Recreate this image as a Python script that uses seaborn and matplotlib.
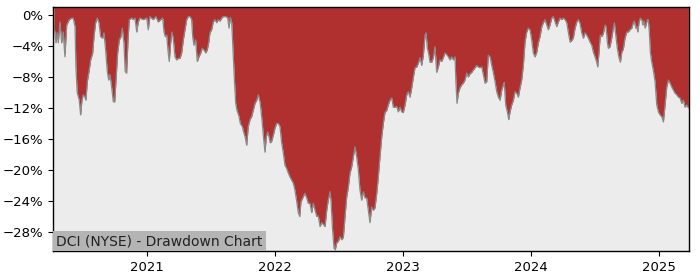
import matplotlib
matplotlib.use("Agg")
import matplotlib.pyplot as plt
import seaborn as sns
import numpy as np
import pandas as pd
from matplotlib.ticker import FuncFormatter

# ---- data (decimal year, drawdown in %) ----
years_2020 = [
    2020.273, 2020.281, 2020.289, 2020.299, 2020.307, 2020.320, 2020.334, 2020.346, 2020.359, 2020.373,
    2020.393, 2020.412, 2020.424, 2020.438, 2020.445, 2020.455, 2020.471, 2020.482, 2020.492, 2020.502,
    2020.513, 2020.523, 2020.534, 2020.549, 2020.560, 2020.576, 2020.586, 2020.599, 2020.612, 2020.625,
    2020.638, 2020.654, 2020.664, 2020.677, 2020.690, 2020.701, 2020.711, 2020.724, 2020.737, 2020.748,
    2020.758, 2020.771, 2020.784, 2020.797, 2020.807, 2020.820, 2020.830, 2020.841, 2020.852, 2020.862,
    2020.880, 2020.893, 2020.906, 2020.920, 2020.932, 2020.945, 2020.971, 2020.998, 2021.010,
]
dd_2020 = [
    -1.5, -2.2, -3.6, -2.3, -3.6, -0.9, -3.6, -2.2, -5.4, -1.3,
    -0.6, -0.4, -0.4, -1.5, -6.7, -10.0, -11.0, -12.9, -11.0, -10.3,
    -10.5, -11.0, -8.6, -7.1, -5.8, -4.9, -2.8, -1.0, -0.4, -1.0,
    -2.8, -3.0, -2.3, -4.5, -7.3, -8.4, -7.7, -9.3, -11.2, -11.2,
    -8.4, -4.9, -3.2, -2.8, -1.7, -3.6, -7.3, -7.5, -3.2, -0.6,
    -0.4, -0.6, -0.4, -2.2, -0.9, -0.4, -0.6, -0.4, -1.9,
]

years_2021a = [
    2021.023, 2021.049, 2021.070, 2021.088, 2021.107, 2021.123, 2021.133, 2021.143, 2021.154, 2021.166,
    2021.174, 2021.185, 2021.195, 2021.205, 2021.219, 2021.232, 2021.245, 2021.258, 2021.271, 2021.284,
    2021.297, 2021.310, 2021.323, 2021.336, 2021.349, 2021.357, 2021.367, 2021.380, 2021.393, 2021.406,
    2021.420, 2021.432, 2021.445, 2021.459, 2021.471, 2021.482, 2021.492, 2021.505, 2021.518, 2021.531,
    2021.545, 2021.557, 2021.570, 2021.584, 2021.596,
]
dd_2021a = [
    -0.2, -0.6, -0.2, -0.9, -0.6, -0.4, -2.2, -2.8, -2.6, -4.9,
    -6.0, -3.6, -2.2, -3.0, -5.4, -5.8, -5.6, -5.6, -4.9, -3.2,
    -1.9, -0.6, -0.2, -0.2, -0.6, -2.8, -3.9, -3.2, -6.0, -5.4,
    -4.9, -4.3, -4.5, -4.9, -4.5, -3.6, -2.3, -1.9, -0.9, -0.6,
    -1.0, -0.6, -0.8, -0.4, -0.2,
]

years_2021b = [
    2021.609, 2021.630, 2021.641, 2021.651, 2021.662, 2021.672, 2021.682, 2021.693, 2021.703, 2021.719,
    2021.729, 2021.745, 2021.755, 2021.766, 2021.779, 2021.791, 2021.805, 2021.818, 2021.830, 2021.844,
    2021.857, 2021.870, 2021.883, 2021.891, 2021.901, 2021.912, 2021.922, 2021.932, 2021.943, 2021.953,
    2021.963, 2021.974, 2021.987, 2022.000, 2022.013, 2022.026, 2022.039, 2022.052, 2022.065, 2022.078,
    2022.091, 2022.104, 2022.117, 2022.130, 2022.143, 2022.156, 2022.170, 2022.182, 2022.193, 2022.203,
    2022.219, 2022.234, 2022.248, 2022.260,
]
dd_2021b = [
    -0.2, -0.3, -1.7, -0.3, -1.0, -4.5, -8.0, -11.4, -12.3, -13.1,
    -14.0, -14.4, -15.1, -15.7, -16.8, -14.4, -13.5, -13.1, -12.3, -11.4,
    -11.0, -10.3, -11.2, -12.3, -14.0, -16.1, -17.7, -15.7, -15.1, -15.7,
    -16.5, -16.3, -15.5, -14.6, -14.0, -14.0, -14.4, -16.5, -17.8, -19.4,
    -19.8, -20.4, -20.9, -21.3, -21.7, -22.6, -24.1, -25.5, -26.0, -24.1,
    -23.5, -23.0, -23.6, -24.3,
]

years_2022 = [
    2022.273, 2022.287, 2022.299, 2022.313, 2022.326, 2022.338, 2022.352, 2022.365, 2022.377, 2022.391,
    2022.404, 2022.416, 2022.430, 2022.438, 2022.448, 2022.461, 2022.471, 2022.482, 2022.495, 2022.508,
    2022.521, 2022.534, 2022.547, 2022.560, 2022.573, 2022.586, 2022.599, 2022.612, 2022.625, 2022.638,
    2022.651, 2022.664, 2022.677, 2022.690, 2022.703, 2022.716, 2022.729, 2022.742, 2022.755, 2022.768,
    2022.781, 2022.795, 2022.807, 2022.820, 2022.834, 2022.846, 2022.859, 2022.873, 2022.885, 2022.898,
    2022.912, 2022.924,
]
dd_2022 = [
    -24.3, -25.5, -24.3, -25.2, -26.0, -25.9, -27.3, -26.8, -27.0, -27.3,
    -25.2, -23.9, -22.8, -24.1, -27.3, -30.1, -30.3, -29.4, -29.2, -28.6,
    -29.0, -28.7, -26.0, -23.5, -22.2, -20.4, -19.6, -18.3, -17.0, -18.3,
    -20.0, -22.6, -23.9, -22.8, -23.6, -23.6, -25.2, -26.8, -24.8, -25.2,
    -24.9, -23.0, -20.9, -18.3, -15.7, -14.0, -12.6, -12.3, -11.6, -11.0,
    -10.7, -11.9,
]

years_2023 = [
    2022.938, 2022.951, 2022.963, 2022.977, 2022.990, 2023.002, 2023.016, 2023.029, 2023.041, 2023.055,
    2023.068, 2023.080, 2023.094, 2023.107, 2023.120, 2023.133, 2023.146, 2023.159, 2023.172, 2023.180,
    2023.190, 2023.198, 2023.211, 2023.224, 2023.237, 2023.250, 2023.263, 2023.276, 2023.289, 2023.302,
    2023.315, 2023.328, 2023.341, 2023.354, 2023.367, 2023.380, 2023.393, 2023.406, 2023.414, 2023.422,
    2023.432, 2023.445, 2023.459, 2023.471, 2023.484, 2023.498, 2023.510, 2023.523, 2023.537, 2023.549,
    2023.563, 2023.576, 2023.588, 2023.602, 2023.615, 2023.627, 2023.641, 2023.654, 2023.666, 2023.680,
    2023.693, 2023.705,
]
dd_2023 = [
    -11.9, -11.8, -12.5, -11.9, -12.5, -12.6, -11.6, -10.3, -9.9, -10.6,
    -9.4, -8.1, -6.8, -6.7, -6.2, -5.5, -6.5, -5.2, -2.6, -2.3,
    -4.3, -4.8, -6.1, -6.1, -5.5, -4.1, -7.4, -6.7, -5.8, -6.0,
    -5.5, -4.9, -5.1, -5.4, -5.8, -5.4, -5.8, -5.4, -9.0, -11.4,
    -10.1, -9.4, -9.0, -8.8, -8.4, -7.5, -8.0, -7.6, -7.4, -7.1,
    -6.8, -6.5, -6.7, -6.8, -6.7, -7.7, -8.8, -8.6, -5.2, -5.4,
    -6.5, -7.4,
]

years_2024a = [
    2023.719, 2023.732, 2023.745, 2023.758, 2023.771, 2023.784, 2023.791, 2023.802, 2023.815, 2023.826,
    2023.836, 2023.849, 2023.862, 2023.875, 2023.888, 2023.901, 2023.914, 2023.927, 2023.940, 2023.953,
    2023.966, 2023.979, 2023.992, 2024.005, 2024.018, 2024.031, 2024.045, 2024.057, 2024.070, 2024.084,
    2024.096, 2024.109, 2024.123, 2024.135, 2024.148, 2024.162, 2024.174, 2024.188, 2024.201, 2024.213,
    2024.227, 2024.240, 2024.252, 2024.266, 2024.279, 2024.291, 2024.305, 2024.318, 2024.330, 2024.344,
    2024.357, 2024.370, 2024.383, 2024.396, 2024.409,
]
dd_2024a = [
    -8.6, -9.9, -10.6, -11.0, -9.7, -9.0, -8.7, -11.6, -12.5, -13.5,
    -12.5, -11.6, -11.0, -9.9, -10.1, -10.6, -9.4, -8.4, -6.5, -3.5,
    -2.2, -1.7, -1.9, -3.2, -4.9, -5.4, -4.8, -3.6, -2.8, -1.5,
    -1.0, -0.6, -1.3, -1.9, -1.3, -0.4, -0.2, -0.9, -1.5, -0.9,
    -0.4, -0.6, -0.4, -0.6, -1.0, -2.2, -3.5, -3.3, -3.0, -1.7,
    -0.9, -0.6, -1.1, -2.3, -3.0,
]

years_2024b = [
    2024.422, 2024.435, 2024.448, 2024.461, 2024.474, 2024.487, 2024.500, 2024.513, 2024.521, 2024.531,
    2024.541, 2024.552, 2024.565, 2024.578, 2024.586, 2024.596, 2024.604, 2024.617, 2024.630, 2024.643,
    2024.651, 2024.662, 2024.674, 2024.688, 2024.698, 2024.709, 2024.721, 2024.734, 2024.748, 2024.760,
    2024.773, 2024.787, 2024.799, 2024.807, 2024.818, 2024.826, 2024.834, 2024.844, 2024.854, 2024.865,
    2024.873, 2024.883, 2024.891, 2024.898, 2024.909, 2024.916, 2024.924, 2024.932, 2024.943, 2024.955,
    2024.969, 2024.982, 2024.995, 2025.008, 2025.021, 2025.034, 2025.047, 2025.060, 2025.073, 2025.086,
    2025.099, 2025.112, 2025.125, 2025.138, 2025.151, 2025.164, 2025.177, 2025.190, 2025.203, 2025.216,
    2025.229,
]
dd_2024b = [
    -2.3, -2.6, -3.0, -3.5, -3.9, -4.8, -5.4, -6.1, -6.7, -4.8,
    -2.6, -2.8, -2.4, -1.3, -1.5, -3.5, -4.3, -4.1, -3.0, -1.7,
    -1.0, -2.6, -4.3, -5.6, -6.1, -4.8, -4.4, -3.0, -2.2, -2.2,
    -1.9, -1.7, -1.0, -0.8, -1.7, -1.5, -2.2, -0.9, -0.4, -0.6,
    -1.3, -0.8, -1.7, -1.3, -0.6, -0.6, -2.2, -4.8, -6.1, -7.1,
    -8.6, -11.6, -12.5, -12.9, -13.1, -13.8, -11.6, -9.3, -8.4, -8.8,
    -9.3, -9.7, -10.1, -10.3, -10.6, -10.7, -11.4, -11.0, -11.9, -11.6,
    -12.0,
]

year_ticks = [2021, 2022, 2023, 2024, 2025]
pct_ticks = [0, -4, -8, -12, -16, -20, -24, -28]
title_text = "DCI (NYSE) - Drawdown Chart"

years = (years_2020 + years_2021a + years_2021b + years_2022 + years_2023
         + years_2024a + years_2024b)
drawdown = (dd_2020 + dd_2021a + dd_2021b + dd_2022 + dd_2023
            + dd_2024a + dd_2024b)
df = pd.DataFrame({"year": years, "drawdown": drawdown})

# ---- styling ----
sns.set_style("ticks")
plt.rcParams["font.family"] = ["DejaVu Sans"]

RED = "#b03030"
BG = "#ececec"
y_top, y_bot = 1.03, -30.45

fig = plt.figure(figsize=(7, 2.8), dpi=100)
ax = fig.add_axes([53 / 700, 1 - 251 / 280, (689 - 53) / 700, (251 - 7) / 280])
ax.set_facecolor(BG)

ax.fill_between(df["year"], df["drawdown"], y_top, color=RED, linewidth=0, zorder=1)
sns.lineplot(data=df, x="year", y="drawdown", ax=ax, color="#8a8a8a",
             linewidth=0.9, zorder=2)

ax.set_xlim(2020.266, 2025.234)
ax.set_ylim(y_bot, y_top)
ax.set_xticks(year_ticks)
ax.set_xticklabels([str(y) for y in year_ticks])
ax.set_yticks(pct_ticks)
ax.yaxis.set_major_formatter(FuncFormatter(lambda v, p: f"{int(round(v))}%".replace("-", "\u2212")))
ax.set_xlabel("")
ax.set_ylabel("")
ax.tick_params(axis="both", labelsize=9.5, length=3.5, width=0.8, colors="black")
for s in ax.spines.values():
    s.set_visible(True)
    s.set_color("black")
    s.set_linewidth(1.0)

ax.text(0.005, 0.012, title_text, transform=ax.transAxes, fontsize=10,
        color="#222222", ha="left", va="bottom", zorder=5,
        bbox=dict(facecolor="#b4b4b4", edgecolor="none", pad=2.2))

fig.savefig("out.png", dpi=100)
